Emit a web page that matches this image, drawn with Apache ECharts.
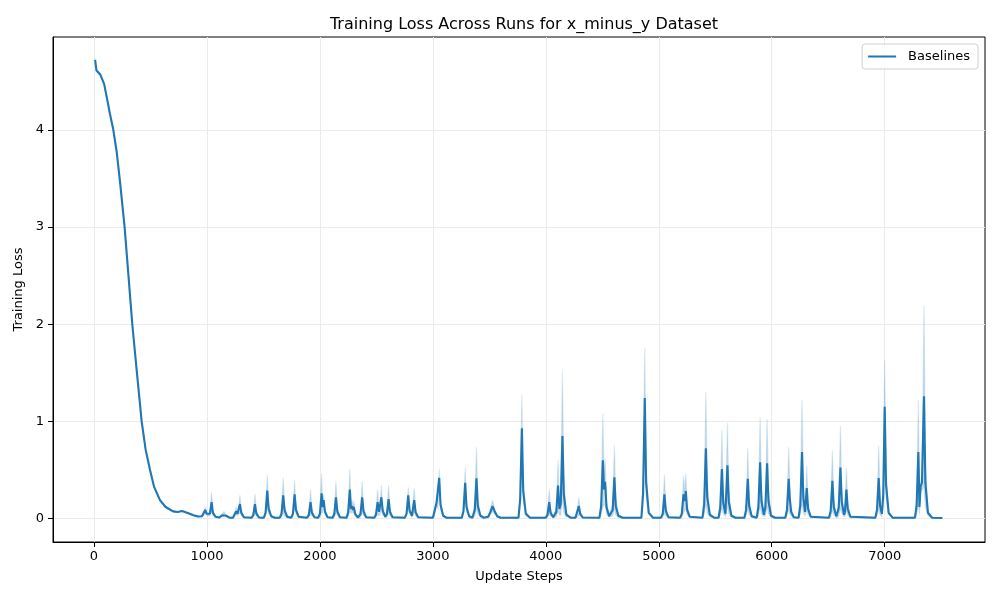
<!DOCTYPE html>
<html>
<head>
<meta charset="utf-8">
<script src="https://cdn.jsdelivr.net/npm/echarts@6/dist/echarts.min.js"></script>
<style>html,body{margin:0;padding:0;background:#fff}#c{width:1000px;height:600px}</style>
</head>
<body>
<div id="c"></div>
<script>
// ---- data ----
const steps = [
  10,22,55,90,124,140,171,200,230,271,305,339,380,422,457,496,531,584,634,700,740,780,830,880,920,955,
  970,985,997,1012,1026,1041,1053,1076,
  1110,1135,1150,1170,1200,
  1230,1245,1257,1270,1280,1292,1304,1327,
  1395,1410,1425,1437,1460,
  1504,1519,1534,1546,1569,1600,
  1645,1660,1675,1687,1710,
  1746,1761,1776,1788,1811,
  1887,1902,1917,1929,1952,
  1985,2000,2015,2024,2033,2045,2068,
  2112,2127,2142,2154,2177,
  2235,2250,2265,2275,2285,2293,2300,2312,2335,
  2344,2359,2374,2386,2409,
  2481,2496,2511,2523,2532,2544,2556,2579,
  2593,2608,2620,2643,
  2752,2767,2782,2794,2815,2835,2847,2870,
  3000,3015,3033,3045,3056,3068,3091,3120,
  3256,3271,3286,3298,3321,3350,
  3371,3386,3398,3421,3450,
  3490,3510,3528,3545,3570,3600,
  3758,3773,3788,3800,3823,3860,
  4000,4015,4030,4042,4065,
  4093,4108,4120,4132,4147,4159,4182,4220,
  4262,4277,4292,4304,4327,
  4475,4490,4505,4515,4525,4537,4560,
  4592,4607,4619,4642,4680,
  4846,4861,4876,4888,4911,4950,
  5020,5035,5050,5062,5085,
  5189,5204,5219,5229,5239,5251,5274,
  5387,5402,5417,5429,5452,5490,
  5529,5544,5559,5571,5590,5608,5620,5643,5680,
  5758,5773,5788,5800,5823,
  5867,5882,5897,5909,5930,5944,5959,5971,5994,6030,
  6120,6135,6150,6160,6172,6195,
  6238,6253,6268,6280,6295,6310,6322,6345,
  6507,6522,6537,6549,6572,
  6578,6593,6608,6620,6640,6648,6661,6673,6696,
  6917,6932,6947,6959,6975,6987,7000,7012,7035,7070,
  7268,7283,7298,7308,7318,7330,7348,7360,7383,7420,7510
];
const meanLoss = [
  4.72,4.61,4.57,4.47,4.27,4.17,4.0,3.78,3.47,3.0,2.5,2.0,1.5,1.0,0.71,0.5,0.33,0.19,0.12,0.075,0.068,0.078,0.058,0.035,0.022,0.025,
  0.04,0.09,0.05,0.03,0.05,0.17,0.06,0.02,
  0.012,0.035,0.05,0.03,0.01,
  0.01,0.03,0.075,0.05,0.07,0.15,0.06,0.015,
  0.01,0.035,0.15,0.055,0.012,
  0.01,0.06,0.29,0.1,0.025,0.01,
  0.01,0.05,0.24,0.085,0.02,
  0.01,0.05,0.25,0.09,0.02,
  0.01,0.04,0.17,0.06,0.015,
  0.01,0.05,0.26,0.12,0.19,0.07,0.015,
  0.01,0.045,0.22,0.075,0.015,
  0.01,0.06,0.30,0.1,0.13,0.09,0.12,0.05,0.012,
  0.01,0.045,0.22,0.075,0.015,
  0.01,0.04,0.17,0.07,0.07,0.22,0.08,0.02,
  0.045,0.20,0.07,0.015,
  0.01,0.05,0.24,0.08,0.03,0.19,0.065,0.015,
  0.01,0.03,0.17,0.15,0.42,0.14,0.03,0.01,
  0.01,0.08,0.37,0.12,0.025,0.01,
  0.09,0.415,0.13,0.03,0.01,
  0.02,0.07,0.13,0.08,0.025,0.01,
  0.01,0.2,0.93,0.28,0.05,0.01,
  0.01,0.04,0.17,0.06,0.015,
  0.07,0.34,0.1,0.15,0.85,0.25,0.04,0.01,
  0.01,0.03,0.13,0.05,0.012,
  0.01,0.13,0.60,0.3,0.38,0.12,0.025,
  0.09,0.425,0.13,0.03,0.01,
  0.01,0.26,1.24,0.37,0.06,0.01,
  0.01,0.05,0.25,0.08,0.015,
  0.01,0.05,0.25,0.18,0.285,0.09,0.02,
  0.01,0.15,0.725,0.22,0.04,0.01,
  0.01,0.11,0.51,0.16,0.05,0.55,0.17,0.03,0.01,
  0.01,0.09,0.41,0.13,0.025,
  0.01,0.12,0.58,0.18,0.04,0.12,0.57,0.18,0.03,0.01,
  0.01,0.09,0.41,0.2,0.07,0.015,
  0.01,0.14,0.686,0.21,0.07,0.315,0.1,0.02,
  0.01,0.08,0.39,0.12,0.025,
  0.01,0.11,0.527,0.17,0.04,0.07,0.30,0.1,0.02,
  0.01,0.09,0.418,0.13,0.05,0.24,1.15,0.35,0.06,0.01,
  0.01,0.14,0.686,0.12,0.33,0.37,1.258,0.37,0.06,0.01,0.007
];
const upperLoss = [
  4.73,4.62,4.58,4.48,4.28,4.18,4.01,3.79,3.48,3.01,2.51,2.01,1.51,1.01,0.72,0.51,0.34,0.2,0.13,0.08,0.073,0.083,0.063,0.04,0.027,0.03,
  0.05,0.12,0.06,0.035,0.07,0.27,0.09,0.025,
  0.018,0.05,0.075,0.04,0.015,
  0.015,0.04,0.12,0.07,0.1,0.24,0.09,0.02,
  0.015,0.06,0.25,0.085,0.018,
  0.015,0.1,0.45,0.15,0.035,0.015,
  0.015,0.09,0.42,0.14,0.03,
  0.015,0.09,0.39,0.13,0.03,
  0.015,0.07,0.30,0.1,0.02,
  0.015,0.09,0.46,0.18,0.25,0.1,0.02,
  0.015,0.08,0.38,0.12,0.02,
  0.015,0.11,0.51,0.16,0.19,0.13,0.18,0.07,0.018,
  0.015,0.08,0.38,0.12,0.02,
  0.015,0.07,0.30,0.11,0.1,0.34,0.12,0.03,
  0.08,0.34,0.11,0.02,
  0.015,0.08,0.32,0.11,0.05,0.31,0.1,0.02,
  0.015,0.04,0.21,0.2,0.51,0.18,0.04,0.015,
  0.015,0.12,0.52,0.17,0.035,0.015,
  0.15,0.73,0.22,0.04,0.015,
  0.03,0.1,0.19,0.11,0.035,0.015,
  0.015,0.27,1.275,0.38,0.07,0.015,
  0.015,0.07,0.30,0.1,0.02,
  0.12,0.60,0.17,0.28,1.51,0.45,0.06,0.015,
  0.015,0.05,0.22,0.08,0.018,
  0.015,0.22,1.08,0.45,0.62,0.19,0.035,
  0.15,0.75,0.22,0.04,0.015,
  0.015,0.37,1.75,0.52,0.08,0.015,
  0.015,0.09,0.45,0.14,0.02,
  0.015,0.09,0.44,0.28,0.46,0.14,0.025,
  0.015,0.26,1.30,0.38,0.06,0.015,
  0.015,0.19,0.91,0.27,0.08,0.98,0.3,0.045,0.015,
  0.015,0.15,0.72,0.22,0.035,
  0.015,0.21,1.04,0.31,0.06,0.21,1.02,0.3,0.045,0.015,
  0.015,0.15,0.73,0.35,0.11,0.02,
  0.015,0.24,1.22,0.36,0.11,0.54,0.16,0.03,
  0.015,0.14,0.70,0.2,0.035,
  0.015,0.19,0.95,0.28,0.06,0.12,0.52,0.16,0.03,
  0.015,0.15,0.75,0.22,0.08,0.34,1.635,0.49,0.08,0.015,
  0.015,0.24,1.22,0.2,0.37,0.45,2.19,0.62,0.09,0.015,0.01
];
const lowerLoss = [
  4.71,4.60,4.56,4.46,4.26,4.16,3.99,3.77,3.46,2.99,2.49,1.99,1.49,0.99,0.70,0.49,0.32,0.18,0.11,0.07,0.063,0.073,0.053,0.03,0.017,0.02,
  0.03,0.06,0.04,0.025,0.03,0.07,0.03,0.015,
  0.006,0.02,0.03,0.02,0.005,
  0.005,0.02,0.04,0.03,0.04,0.06,0.03,0.008,
  0.005,0.015,0.05,0.03,0.006,
  0.005,0.03,0.13,0.05,0.015,0.005,
  0.005,0.02,0.06,0.03,0.01,
  0.005,0.02,0.11,0.05,0.01,
  0.005,0.015,0.04,0.03,0.008,
  0.005,0.02,0.06,0.06,0.13,0.04,0.008,
  0.005,0.015,0.06,0.035,0.008,
  0.005,0.02,0.09,0.05,0.08,0.05,0.06,0.03,0.006,
  0.005,0.015,0.06,0.035,0.008,
  0.005,0.015,0.04,0.03,0.04,0.1,0.04,0.01,
  0.015,0.06,0.035,0.008,
  0.005,0.025,0.16,0.05,0.015,0.07,0.03,0.008,
  0.005,0.02,0.13,0.1,0.33,0.1,0.02,0.005,
  0.005,0.04,0.22,0.07,0.015,0.005,
  0.03,0.1,0.05,0.015,0.005,
  0.01,0.04,0.07,0.05,0.015,0.005,
  0.005,0.13,0.59,0.18,0.03,0.005,
  0.005,0.015,0.04,0.03,0.008,
  0.02,0.08,0.04,0.03,0.19,0.06,0.02,0.005,
  0.005,0.01,0.04,0.025,0.006,
  0.005,0.04,0.12,0.15,0.14,0.05,0.015,
  0.03,0.1,0.04,0.015,0.005,
  0.005,0.15,0.73,0.22,0.04,0.005,
  0.005,0.015,0.05,0.03,0.008,
  0.005,0.015,0.06,0.08,0.11,0.04,0.01,
  0.005,0.04,0.15,0.06,0.02,0.005,
  0.005,0.03,0.11,0.05,0.02,0.12,0.05,0.015,0.005,
  0.005,0.03,0.1,0.04,0.012,
  0.005,0.03,0.12,0.05,0.02,0.03,0.12,0.05,0.015,0.005,
  0.005,0.03,0.09,0.05,0.03,0.008,
  0.005,0.04,0.15,0.06,0.03,0.09,0.04,0.01,
  0.005,0.02,0.08,0.04,0.012,
  0.005,0.03,0.1,0.06,0.02,0.02,0.08,0.04,0.01,
  0.005,0.03,0.09,0.04,0.02,0.14,0.67,0.21,0.04,0.005,
  0.005,0.04,0.15,0.04,0.29,0.29,0.33,0.12,0.03,0.005,0.004
];
const xTicks = [0,1000,2000,3000,4000,5000,6000,7000];
const yTicks = [0,1,2,3,4];
const seriesName = 'Baselines';

// ---- chart ----
const FONT = 'DejaVu Sans';
const BLUE = '#1f77b4';
const chart = echarts.init(document.getElementById('c'), null, {renderer: 'canvas'});
const lineData = steps.map((s, i) => [s, meanLoss[i]]);

chart.setOption({
  animation: false,
  backgroundColor: '#fff',
  textStyle: {fontFamily: FONT, color: '#000'},
  title: {
    text: 'Training Loss Across Runs for x_minus_y Dataset',
    left: 519, top: 12, textAlign: 'center',
    textStyle: {fontFamily: FONT, fontSize: 16, fontWeight: 'normal', color: '#000'}
  },
  legend: {
    data: [seriesName], right: 22, top: 44,
    padding: [6, 8, 6, 6], itemWidth: 28, itemHeight: 2, icon: 'rect',
    borderColor: '#d0d0d0', borderWidth: 1, borderRadius: 3,
    backgroundColor: 'rgba(255,255,255,0.8)',
    textStyle: {fontFamily: FONT, fontSize: 13, color: '#000', padding: [0, 0, 0, 7]}
  },
  grid: {left: 53, right: 15, top: 37, bottom: 58, show: true, borderColor: '#000', borderWidth: 1},
  xAxis: {
    type: 'value', min: -363, max: 7888, splitNumber: 8,
    name: 'Update Steps', nameLocation: 'middle', nameGap: 28,
    nameTextStyle: {fontFamily: FONT, fontSize: 13, color: '#000'},
    axisLine: {onZero: false, lineStyle: {color: '#000', width: 1}},
    axisTick: {customValues: xTicks, length: 5, lineStyle: {color: '#000'}},
    axisLabel: {customValues: xTicks, margin: 8, fontFamily: FONT, fontSize: 13, color: '#000', formatter: v => String(v)},
    splitLine: {show: true, lineStyle: {color: '#ebebeb', width: 1}}
  },
  yAxis: {
    type: 'value', min: -0.24, max: 4.955, splitNumber: 5,
    name: 'Training Loss', nameLocation: 'middle', nameGap: 25,
    nameTextStyle: {fontFamily: FONT, fontSize: 13, color: '#000'},
    axisLine: {onZero: false, lineStyle: {color: '#000', width: 1}},
    axisTick: {customValues: yTicks, length: 5, lineStyle: {color: '#000'}},
    axisLabel: {customValues: yTicks, margin: 9, fontFamily: FONT, fontSize: 13, color: '#000', formatter: v => String(v)},
    splitLine: {show: true, lineStyle: {color: '#ebebeb', width: 1}}
  },
  series: [
    {
      type: 'custom', name: 'band', silent: true, z: 1,
      data: [[steps[0], meanLoss[0]]],
      renderItem: function (params, api) {
        const pts = [];
        for (let i = 0; i < steps.length; i++) pts.push(api.coord([steps[i], upperLoss[i]]));
        for (let i = steps.length - 1; i >= 0; i--) pts.push(api.coord([steps[i], lowerLoss[i]]));
        return {type: 'polygon', shape: {points: pts},
          style: {fill: 'rgba(31,119,180,0.24)', stroke: 'rgba(31,119,180,0.14)', lineWidth: 1.2, lineJoin: 'round'}};
      }
    },
    {
      type: 'line', name: seriesName, data: lineData, z: 3,
      showSymbol: false, symbol: 'none', color: BLUE,
      lineStyle: {color: BLUE, width: 2.1}
    }
  ]
});
</script>
</body>
</html>
